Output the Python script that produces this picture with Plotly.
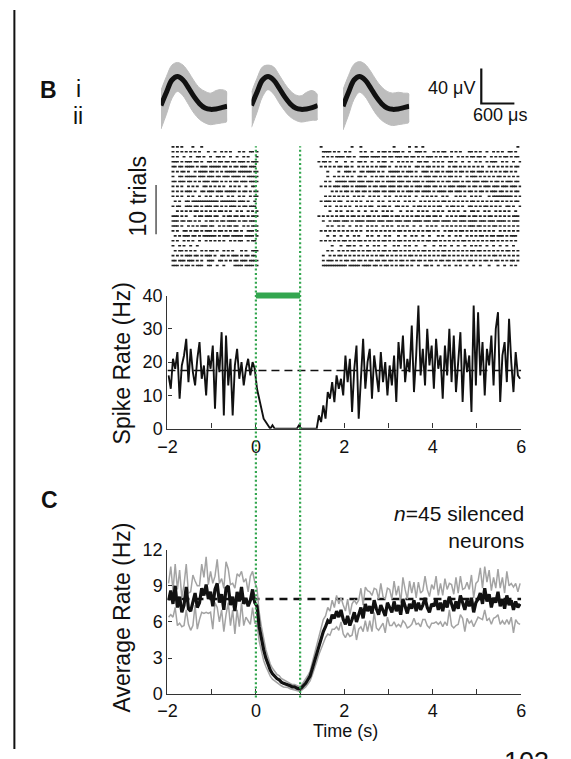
import plotly.graph_objects as go

W, H = 571, 759
FONT = "Liberation Sans, Arial, sans-serif"
INK = "#111111"
AXIS = "#333333"
GREEN = "#33a64f"

# ---------------- data ----------------
BIN = 0.05
T_START = -2.0
T_END = 6.0
STIM_ON, STIM_OFF = 0.0, 1.0
X_TICKS = [-2, -1, 0, 1, 2, 3, 4, 5, 6]
X_TICKTEXT = ["\u22122", "", "0", "", "2", "", "4", "", "6"]

# Panel B: single-neuron spike rate (Hz), 50 ms bins from -2 s
B_RATE = [16, 12, 21, 18, 23, 9, 19, 22, 27, 14, 24, 17, 13, 21, 26, 15, 19, 10, 22, 18,
          25, 6, 23, 17, 29, 4, 28, 13, 21, 4, 19, 24, 15, 20, 13, 18, 21, 16, 20, 18,
          12, 9, 5, 3, 2, 1, 0, 1, 0, 0, 0, 0, 0, 0, 0, 0, 0, 0, 0, 1, 0, 0, 0, 0, 0, 0, 0, 0,
          4, 2, 7, 3, 11, 9, 14, 8, 16, 12, 15, 10, 22,
          14, 21, 5, 18, 25, 3, 16, 27, 12, 20, 24, 9, 22, 17, 11, 23, 14, 20, 10,
          19, 13, 22, 8, 26, 18, 28, 14, 21, 17, 31, 11, 22, 37, 16, 24, 13, 30, 19, 25,
          12, 27, 18, 22, 9, 25, 16, 30, 14, 28, 11, 19, 29, 8, 24, 17, 22, 5, 37, 13,
          35, 16, 26, 10, 24, 19, 28, 13, 30, 35, 8, 22, 26, 14, 33, 20, 11, 23, 16, 15]
B_BASELINE = 17.5
B_YTICKS = [0, 10, 20, 30, 40]

# Panel C: population average rate (Hz) and SEM
C_MEAN = [7.8, 8.6, 7.5, 9.0, 7.2, 8.1, 6.8, 7.4, 8.9, 7.1, 6.9, 7.8, 8.4, 7.2, 7.6, 8.8, 8.2, 9.1, 7.9, 8.5,
          7.3, 8.7, 9.2, 7.6, 8.3, 7.0, 8.8, 9.0, 7.4, 8.1, 6.9, 8.5, 7.7, 8.9, 7.5, 8.0, 7.3, 7.8, 8.7, 7.6,
          7.3, 5.6, 4.6, 3.7, 3.0, 2.5, 2.0, 1.7, 1.5, 1.3, 1.2, 1.0, 0.9, 0.85, 0.8, 0.7, 0.6, 0.6, 0.5, 0.45,
          0.5, 0.7, 0.9, 1.2, 1.5, 2.1, 2.7, 3.4,
          4.1, 4.7, 5.2, 5.6, 6.1, 5.9, 6.6, 6.3, 6.9, 6.4, 7.0, 6.2,
          5.8, 6.5, 5.7, 6.2, 6.8, 6.0, 6.6, 7.2, 6.3, 7.5, 6.9, 7.3, 6.7, 7.8, 7.1, 6.6, 7.4, 7.0, 6.5, 7.6,
          7.2, 6.8, 7.7, 6.9, 7.4, 6.6, 7.9, 7.3, 6.7, 7.5, 7.1, 7.8, 6.9, 7.6, 7.0, 7.4, 8.0, 7.2, 6.8, 7.5,
          7.3, 7.9, 7.0, 7.6, 6.9, 7.8, 7.2, 8.1, 7.4, 6.9, 7.7, 7.1, 8.2, 7.5, 7.0, 7.8, 7.3, 8.0, 6.8, 7.6,
          7.9, 8.4, 7.5, 8.8, 7.7, 8.3, 7.2, 8.0, 7.6, 8.5, 7.3, 7.9, 7.1, 8.2, 7.4, 7.8, 7.0, 7.7, 7.2, 7.5]
C_SEM = [1.4, 2.0, 1.1, 1.8, 1.5, 2.2, 1.2, 1.7, 1.9, 1.3, 1.6, 2.1, 1.0, 1.8, 1.4, 2.0, 1.5, 2.3, 1.2, 1.7,
         1.9, 1.1, 2.0, 1.6, 1.3, 1.8, 2.2, 1.4, 1.7, 1.1, 1.9, 1.5, 2.1, 1.3, 1.8, 1.6, 1.2, 2.0, 1.5, 1.7,
         1.5, 1.2, 1.0, 0.9, 0.7, 0.6, 0.5, 0.45, 0.4, 0.35, 0.35, 0.3, 0.3, 0.25, 0.25, 0.25, 0.2, 0.2, 0.2, 0.2,
         0.2, 0.25, 0.3, 0.35, 0.4, 0.5, 0.6, 0.7,
         0.8, 0.9, 1.0, 0.9, 1.1, 1.0, 1.2, 0.9, 1.3, 1.1, 1.0, 1.2,
         1.1, 1.4, 0.9, 1.3, 1.0, 1.5, 1.2, 1.6, 1.1, 1.4, 1.7, 1.2, 1.5, 1.0, 1.6, 1.3, 1.8, 1.1, 1.4, 1.2,
         1.5, 1.1, 1.7, 1.3, 1.6, 1.0, 1.8, 1.4, 1.2, 1.9, 1.3, 1.5, 1.1, 1.7, 1.4, 1.2, 1.8, 1.5, 1.3, 1.6,
         1.4, 1.9, 1.2, 1.6, 1.3, 1.8, 1.5, 1.1, 1.7, 1.4, 2.0, 1.3, 1.6, 1.2, 1.8, 1.5, 1.4, 1.9, 1.2, 1.6,
         1.5, 2.1, 1.3, 1.8, 1.6, 2.0, 1.4, 1.7, 1.2, 1.9, 1.5, 1.8, 1.3, 2.0, 1.6, 1.4, 1.9, 1.5, 1.3, 1.7]
C_BASELINE = 7.9
C_YTICKS = [0, 3, 6, 9, 12]

# Raster: one string per trial, '|' = spike in a 50 ms bin (spaces are only separators)
RASTER_PRE_T0 = -2.0
RASTER_POST_T0 = 1.4
RASTER_PRE = [
    "..|.|.|... .|...|.... .......... .......... .",
    "..|.|.|.|. |.|.|...|. .|..|.|.|. ..|.|..||. |",
    "..|.|..|.. |..||.|..| ..||.|..|. .|..|.|... |",
    "..|||.|.|| |.||.|..|| .|.||.||.| |.|||.|.|| |",
    "..||.||.|| ||.|.|||.| ||||.||.|. ||.|||.||| .",
    "..|.|.||.| ..|.||||.| |.|.|.|||| |.||||||.| |",
    "..|..||.|| |||.|||.|| |.||.|||.| |||.|.|||| |",
    "..||.|||.| |.|.|.|||. |||.|.|.|. ||.|||.||| |",
    "..|.|.|..| .|.|..||.| .|.|.|..|. |.|..|..|| .",
    "..|.|.|.|| |.|..||.|| |.|||.|||| |.|.||.|.| |",
    "..|.|.|..| .|..|..|.| ..|.|..|.| ..|.|..|.| |",
    "...|.|..|| .||||||||| |||.|||||| |.|||.|..| .",
    "..|.||..|| |.||.|.||| .||.|.|.|| |.|.||.||| .",
    "....|.|.|. |.||.|.|.| .|.||.|.|. .|.|..|.|. |",
    "..|||.|.|. ..|.||.||| .||..|.||. ||.||.|.|| |",
    "..|||.||.| |.|.|..|.| |.|.||.||| |.|.||.||| .",
    "..|||.|..| .|.|.|||.| |..|.|.||. ||..|.|.|| |",
    "..|.|..||. |.||.|.||| .|.||.|.|. ||.|..|||. |",
    "...|.|.||| .||.|.|||| ||.|.|||.| ||||.||||. |",
    "..|.|..|.| .|..|..|.| .|.|.|..|. |.||..|.|| .",
    "..|..|.|.. |..|...... .......... .......... .",
    "...|.||.|. |.|..|.|.| |.|..|.|.| ...|.|..|| |",
    "..|.|.|.|| |.||.|.||| .|..||.|.| ||.|.||.|| .",
    "..||.|||.| ||.|.|..|| |..||.|.|. ||.|||.||| |",
    "..|||.|.|| .|.|||..|| ..|..|.... ||||.||||. |",
]
RASTER_POST = [
    ".|........ .....|...| .......... ....|..... .|..|..|.. .......... .......... .......... .......... |.",
    "..||||.|.| ..|.|....| .|..|..|.| |.|.|||.|. .|..|||.|. ..|.|.||.. |.|.|...|| .|.|..|..| .|.|..||.| ..",
    "..|.|.|.|| ||.||.|..| |||.||||.| |.||.|||.| |.||.|.|.| ||.|.|.||. |..|.|.|.| |.||.|..|. |.|.||.|.| |.",
    "|.||.|..|. ..|..|..|| .|..|..|.| |..|..|.|. |.|..||.|| ..|.|.|..| |.|..|..|. .|.|..|.|| |..|.|..|. .|",
    ".|.|.|.|.| |.||.|..|. |.|.|.|.|| |.|..|.|.| .|..||.|.| |.|.|.|..| .||.|.|.|. |.|.|..|.| .|.|.|.|.| |.",
    "....|....| ..|||.|..| |.||||.|.| ..|||||.|. |||.|..||| .|.||.|.|| |.|.||.|.| |.|||.|.|. |.|.||.|.| ..",
    "....|..|.| .|.|.|..|| .|..|.|.|| .|.||.||.| |.|.|.|.|| |.||.|.|.| |.|.|..|.| ||.|.|.|.| .||.|.|.|. |.",
    "...|.|..|| |||.|||.|| |.|||.||.| .||||.|||. ||.|||.|.| |||.|.|.|| .|||.|.||. |||.|||.|. ||.|.|||.| |.",
    ".|.|.|.||| .|||.|.||| ||.|.||.|| |.|||.||.| |.|.|||.|| |.||.|.|.| ||.||||.|. ||.|.|||.| ||.|||.||| .|",
    "......|.|. |.||.|.||. ||.|.|||.| |.|||.|.|. |||.||.||| |.|.||||.| |.|||.|.|| .|.||.|.|| |.||.|.|.| |.",
    "...|.|.|.| .|.|..|.|. |..|.|.|.. |.|..|.|.| .|..|..|.| .|.|..|.|. ..|.|.|..| .|.|...|.| ||||||||.| .|",
    ".|.|||.|.| |..|.|.|.| ..|.|..|.| ..|.|.|..| .|.|..|.|. |.|.|.||.| .|.|.|.|.| |.|.|.|.|. ||.|.|.|.| |.",
    "...|.|..|. |.|.|..|.| .|.||..|.| |.|..||.|. |..|.||.|. |.|.||..|. ||.|.|..|| .|.|.||.|. |.|..||.|. .|",
    ".....|..|. |..|.|..|. .|..|.|..| .|.|...|.. |.|..|.|.| ..|.|.|..| .|.|..|..| |.|..|.|.. |.|.|.|..| ..",
    "|.|.|.|.|. ||.|.||.|. |.||.|.|.| ||.|.||.|. |.|.||.|.| |.||.|..|. |.|.|||.|. ||.|.|.||. |.|.|.|.|| |.",
    "..|..|.||| .|||.|.||| |.||||.||| .|||.|||.| ||.||||.|| |.|||.|||| .||.|||.|| ||.|||.||| .||||.|.|| |.",
    "....|.|..| .|..|..|.| ..|.|.|..| .|.|..|.|. |..|..|..| .|.|..|.|. |.|.|.|.|| |.||.|.|.| |.|.|.|.|. |.",
    ".|.|.|.|.| .|.|.|.|.| ..|.|.|.|. |.|.|.||.| .|.|.|.|.| |.|.|..|.| |.|.||.|.| .|.|.|.|.| ..|.|.|.|. |.",
    "....|..|.. |..|..|.|. ..|.|..|.. |.|...|..| ..|.|..|.. |...|.|..| ..|.|..|.| .|.||.|.|| .|||.|.||| ..",
    ".|.|.|.|.| .||.|.|.|| .|.|.|.|.| |.|.|.||.| .|.|.|.|.| |.||.|.|.| .|.|.||.|. |.|.|.|.|| .|.|.|.|.| ..",
    "......|... |..||.|..| ..|..|.|.. |...|.|..| .|..|...|. ..|..|.|.. |..|..|..| .|.|..|..| ..|..|..|. ..",
    "....|.|..| .|.|.||.|. |.||.|.|.| |.|.||.|.| .|.|.|.||. |.|.|.||.| .|.|.|.|.| |.||.|.|.| .|.|.||.|. |.",
    "..|..|.|.| |.|.|.|.|. |.|.|.|.|| .|.|.|.|.| .||.|.|.|. |.|.|.||.| .|.|.|.|.| .|.|.|.|.| |.|.|.|.|. |.",
    "..|.|||.|. |.||.||.|| .|.||.||.| |.||.|.||. |.||.||.|. ||.|.||.|| .|.||.|.|| .|.|.||.|. ||.|.|.||. |.",
    "..|||||||| |||.|||||. ||||.||.|. ||.|.|.||. |.|..|..|| .|..|..|.| ..|.|..|.. |..|...|.. .|..|..|.| ..",
]

# Spike waveforms (ms, uV): mean and envelope of overlaid traces, 3 units
WAVE_T = [0.0, 0.1, 0.2, 0.3, 0.4, 0.5, 0.6, 0.7, 0.8, 0.9, 1.0, 1.1, 1.2]
WAVE_MEAN_1 = [0, 15, 29, 33, 29, 20, 10, 2, -3, -4.5, -4, -2.5, -1]
WAVE_UP_1 = [17, 33, 46, 49, 46, 38, 28, 20, 16, 14, 17, 18, 15]
WAVE_LO_1 = [-27, -10, 8, 16, 11, 1, -9, -16, -20, -22, -21, -20, -18]
WAVE_MEAN_2 = [0, 15, 29, 33, 29, 20, 10, 2, -3, -4.5, -4, -2.5, 0]
WAVE_UP_2 = [15, 31, 44, 46, 44, 35, 25, 17, 12, 11, 15, 17, 12]
WAVE_LO_2 = [-25, -8, 10, 18, 13, 3, -6, -13, -17, -19, -18, -17, -16]
WAVE_MEAN_3 = [-1, 15, 29, 33, 29, 20, 10, 2, -3, -4.5, -4, -2.5, -1]
WAVE_UP_3 = [18, 34, 47, 50, 47, 39, 29, 21, 16, 14, 15, 14, 13]
WAVE_LO_3 = [-28, -11, 7, 15, 10, 0, -10, -17, -21, -23, -22, -21, -19]
SCALE_UV = 40
SCALE_MS = 0.6
TRIAL_SCALE = 10

# ---------------- layout helpers (pixel -> paper) ----------------
def pxx(a):
    return a / W

def pxy(b):
    return 1 - b / H

def xdom(a, b):
    return [pxx(a), pxx(b)]

def ydom(top, bottom):
    return [pxy(bottom), pxy(top)]

fig = go.Figure()

def center_xy(values, t0):
    xs = [t0 + BIN * (i + 0.5) for i in range(len(values))]
    return xs, list(values)

# ---- Panel B rate ----
fig.add_trace(go.Scatter(x=[T_START, T_END], y=[B_BASELINE, B_BASELINE], mode="lines",
                         line=dict(color=INK, width=1.5, dash="8px,5px"), xaxis="x", yaxis="y"))
bx, by = center_xy(B_RATE, T_START)
fig.add_trace(go.Scatter(x=bx, y=by, mode="lines", line=dict(color=INK, width=1.9),
                         xaxis="x", yaxis="y"))

# ---- Panel C ----
fig.add_trace(go.Scatter(x=[T_START, T_END], y=[C_BASELINE, C_BASELINE], mode="lines",
                         line=dict(color=INK, width=2.5, dash="8px,6px"), xaxis="x2", yaxis="y2"))
c_up = [m + s for m, s in zip(C_MEAN, C_SEM)]
c_lo = [m - s for m, s in zip(C_MEAN, C_SEM)]
for arr in (c_up, c_lo):
    cx, cy = center_xy(arr, T_START)
    fig.add_trace(go.Scatter(x=cx, y=cy, mode="lines", line=dict(color="#a3a3a3", width=1.5),
                             xaxis="x2", yaxis="y2"))
cx, cy = center_xy(C_MEAN, T_START)
fig.add_trace(go.Scatter(x=cx, y=cy, mode="lines", line=dict(color=INK, width=3.2),
                         xaxis="x2", yaxis="y2"))

# ---- Raster ----
rx, ry = [], []
for trial, (pre, post) in enumerate(zip(RASTER_PRE, RASTER_POST), start=1):
    for t0, row in ((RASTER_PRE_T0, pre), (RASTER_POST_T0, post)):
        row = row.replace(" ", "")
        for i, c in enumerate(row):
            if c == "|":
                rx.append(t0 + BIN * (i + 0.5))
                ry.append(trial)
fig.add_trace(go.Scatter(x=rx, y=ry, mode="markers",
                         marker=dict(symbol="line-ew", size=2.1, line=dict(width=1.6, color="#222222")),
                         xaxis="x3", yaxis="y3"))

# ---- Waveforms ----
waves = [(WAVE_MEAN_1, WAVE_UP_1, WAVE_LO_1), (WAVE_MEAN_2, WAVE_UP_2, WAVE_LO_2),
         (WAVE_MEAN_3, WAVE_UP_3, WAVE_LO_3)]
for k, (mean, up, lo) in enumerate(waves):
    xa, ya = "x%d" % (4 + k), "y%d" % (4 + k)
    fig.add_trace(go.Scatter(x=WAVE_T + WAVE_T[::-1], y=up + lo[::-1], mode="lines", fill="toself",
                             fillcolor="#bdbdbd", line=dict(color="#bdbdbd", width=1, shape="spline"),
                             xaxis=xa, yaxis=ya))
    fig.add_trace(go.Scatter(x=WAVE_T, y=mean, mode="lines",
                             line=dict(color=INK, width=5, shape="spline"), xaxis=xa, yaxis=ya))

# scale bar (40 uV / 600 us) in the waveform scale
SB_BASE = 2.2
fig.add_trace(go.Scatter(x=[0, 0, SCALE_MS], y=[SB_BASE + SCALE_UV, SB_BASE, SB_BASE], mode="lines",
                         line=dict(color=INK, width=2.2), xaxis="x7", yaxis="y7"))

# ---------------- axes ----------------
WAVE_YR = [(98 - 126) / 0.9, (98 - 50) / 0.9]
tfont = dict(family=FONT, size=18, color=INK)
time_axis = dict(range=[T_START, T_END], tickvals=X_TICKS, ticktext=X_TICKTEXT, ticks="inside",
                 ticklen=5, tickwidth=1.4, tickcolor=AXIS, showline=True, linecolor=AXIS, linewidth=1.4,
                 showgrid=False, zeroline=False, tickfont=tfont, fixedrange=True)
hidden = dict(visible=False, showgrid=False, zeroline=False, fixedrange=True)
yaxis_style = dict(ticks="inside", ticklen=4, tickwidth=1.4, tickcolor=AXIS, showline=True, linecolor=AXIS,
                   linewidth=1.4, showgrid=False, zeroline=False, tickfont=tfont, fixedrange=True)

fig.update_layout(
    width=W, height=H, margin=dict(l=0, r=0, t=0, b=0), showlegend=False,
    paper_bgcolor="white", plot_bgcolor="rgba(0,0,0,0)",
    xaxis=dict(time_axis, domain=xdom(161.7, 525), anchor="y", ticklabelstandoff=2),
    yaxis=dict(yaxis_style, range=[0, 40], domain=ydom(293.3, 430), anchor="x", tickvals=B_YTICKS),
    xaxis2=dict(time_axis, domain=xdom(161.7, 525), anchor="y2", ticklabelstandoff=0),
    yaxis2=dict(yaxis_style, range=[0, 12], domain=ydom(554.3, 702.7), anchor="x2", tickvals=C_YTICKS),
    xaxis3=dict(hidden, range=[T_START, T_END], domain=xdom(161.7, 525), anchor="y3"),
    yaxis3=dict(hidden, range=[25.9, 0.1], domain=ydom(136, 267), anchor="x3"),
    xaxis4=dict(hidden, range=[0, 1.2], domain=xdom(155, 223), anchor="y4"),
    yaxis4=dict(hidden, range=WAVE_YR, domain=ydom(50, 126), anchor="x4"),
    xaxis5=dict(hidden, range=[0, 1.2], domain=xdom(248, 316), anchor="y5"),
    yaxis5=dict(hidden, range=WAVE_YR, domain=ydom(50, 126), anchor="x5"),
    xaxis6=dict(hidden, range=[0, 1.2], domain=xdom(342, 410), anchor="y6"),
    yaxis6=dict(hidden, range=WAVE_YR, domain=ydom(50, 126), anchor="x6"),
    xaxis7=dict(hidden, range=[-0.0706, 0.6706], domain=xdom(480, 522), anchor="y7"),
    yaxis7=dict(hidden, range=WAVE_YR, domain=ydom(50, 126), anchor="x7"),
)

# ---------------- shapes ----------------
# stimulus bar at the 40 Hz level (top of the panel B axis)
fig.add_shape(type="line", xref="x", yref="y domain", x0=STIM_ON, x1=STIM_OFF, y0=1, y1=1,
              line=dict(color=GREEN, width=6))
# dotted stimulus on/off lines across B and C
for t in (STIM_ON, STIM_OFF):
    fig.add_shape(type="line", xref="x", yref="paper", x0=t, x1=t, y0=pxy(706), y1=pxy(140),
                  line=dict(color=GREEN, width=2.2, dash="2px,2.4px"))
# 10-trial scale bar
fig.add_shape(type="line", xref="paper", yref="y3", x0=pxx(150), x1=pxx(150), y0=8.7, y1=8.7 + TRIAL_SCALE,
              line=dict(color="#555555", width=1.5))
# page border on the left
fig.add_shape(type="line", xref="paper", yref="paper", x0=pxx(4.5), x1=pxx(4.5), y0=0, y1=1,
              line=dict(color=INK, width=2))

# ---------------- text ----------------
def txt(x, y, s, size, bold=False, angle=0, xanchor="center", align="center"):
    fig.add_annotation(x=pxx(x), y=pxy(y), xref="paper", yref="paper", text=("<b>%s</b>" % s) if bold else s,
                       showarrow=False, textangle=angle, xanchor=xanchor, yanchor="middle", align=align,
                       font=dict(family=FONT, size=size, color=INK))

txt(40, 82, "B", 23, bold=True)
txt(70, 81, "i", 23)
txt(70, 109, "ii", 23)
txt(41, 503, "C", 23, bold=True)
txt(131, 191, "10 trials", 23, angle=-90)
txt(115, 363, "Spike Rate (Hz)", 23, angle=-90)
txt(115, 624, "Average Rate (Hz)", 23, angle=-90)
txt(345, 741, "Time (s)", 18)
txt(480, 80, "40 \u03bcV", 18, xanchor="right")
txt(503, 108, "600 \u03bcs", 18)
txt(530, 531, "<i>n</i>=45 silenced<br>neurons", 21, xanchor="right", align="right")
txt(530, 772, "103", 27)

fig.write_html("out.html", config={"displayModeBar": False},
               post_script="document.body.style.margin='0';")
